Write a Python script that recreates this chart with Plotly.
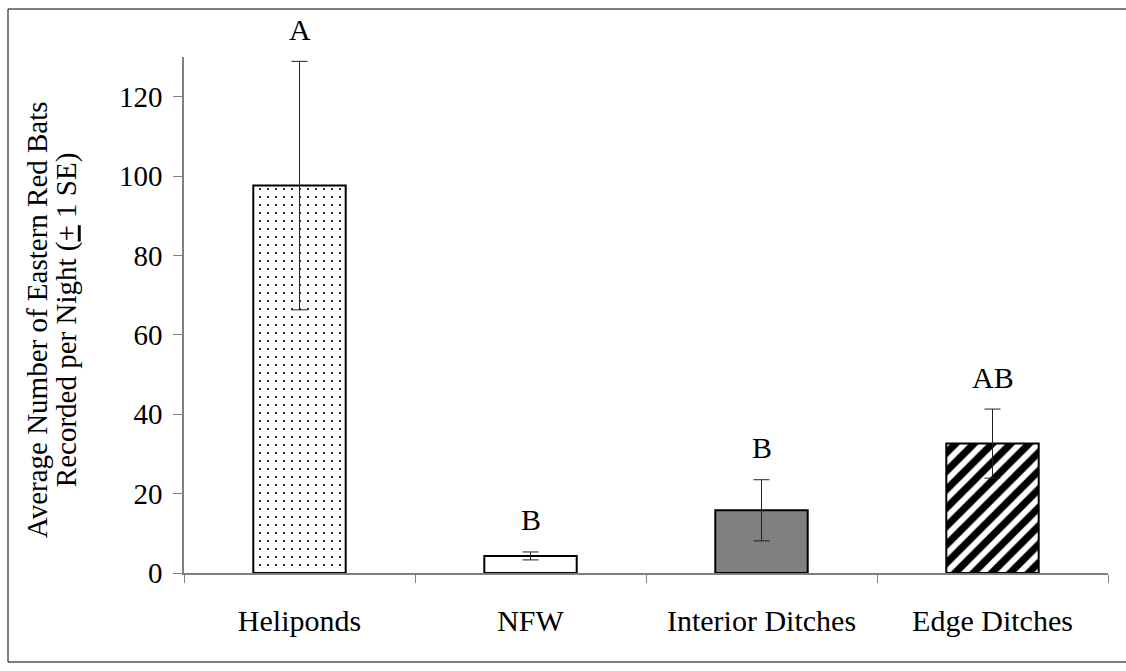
import plotly.graph_objects as go

categories = ["Heliponds", "NFW", "Interior Ditches", "Edge Ditches"]
means = [97.6, 4.3, 15.8, 32.6]
se = [31.3, 1.0, 7.7, 8.7]
letters = ["A", "B", "B", "AB"]
y_ticks = [0, 20, 40, 60, 80, 100, 120]
y_title_lines = ["Average Number of Eastern Red Bats",
                 "Recorded per Night (<span style='text-decoration:underline'>+</span> 1 SE)"]

FONT = "Liberation Serif, Times New Roman, serif"

fig = go.Figure()
fills = ["white", "white", "#808080", "white"]
shapes_ = [".", "", "", "/"]
for i, c in enumerate(categories):
    fig.add_trace(go.Bar(
        x=[c], y=[means[i]],
        width=0.4,
        marker=dict(
            color=fills[i],
            line=dict(color="black", width=2),
            pattern=dict(shape=shapes_[i], fgcolor="black", bgcolor=fills[i],
                         fgopacity=1,
                         size=8 if shapes_[i] == "." else 13,
                         solidity=0.06 if shapes_[i] == "." else 0.55,
                         fillmode="overlay"),
        ),
        error_y=dict(type="data", array=[se[i]], visible=True,
                     color="#222222", thickness=1, width=8),
        showlegend=False,
    ))

for i, c in enumerate(categories):
    fig.add_annotation(x=c, y=means[i] + se[i], text=letters[i], showarrow=False,
                       yanchor="middle", yshift=32,
                       font=dict(family=FONT, size=30, color="black"))

for px, line in zip([37, 66], y_title_lines):
    fig.add_annotation(xref="paper", yref="paper", x=(px - 184) / 924, y=0.49,
                       xanchor="center", yanchor="middle", textangle=-90, showarrow=False,
                       text=line, font=dict(family=FONT, size=29, color="black"))

fig.add_shape(type="rect", xref="paper", yref="paper",
              x0=-176/924, x1=1110/924, y0=-89/516, y1=1 + 48/516,
              line=dict(color="black", width=1))

fig.update_layout(
    width=1126, height=671,
    margin=dict(l=184, r=18, t=57, b=98),
    paper_bgcolor="white", plot_bgcolor="white",
    font=dict(family=FONT, size=29, color="black"),
    bargap=0.6,
    xaxis=dict(showline=True, linecolor="#808080", linewidth=1.5,
               ticks="outside", tickson="boundaries", ticklen=8, tickcolor="#808080",
               tickfont=dict(size=30), ticklabelstandoff=20, showgrid=False),
    yaxis=dict(range=[0, 130], tickvals=y_ticks, showline=True, linecolor="#808080",
               linewidth=1.5, ticks="outside", ticklen=9, tickcolor="#808080",
               showgrid=False, zeroline=False, tickfont=dict(size=29),
               ticklabelstandoff=5),
)

fig.write_html("out.html")
